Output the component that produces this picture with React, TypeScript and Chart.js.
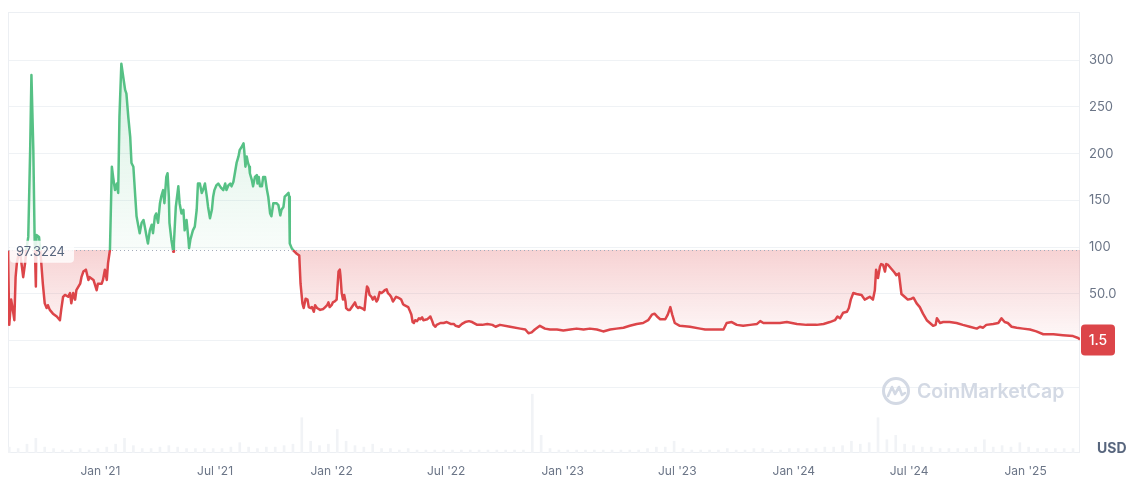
import React, { useEffect, useRef } from 'react';
import { Chart, registerables } from 'chart.js';

Chart.register(...registerables);

// ---- Data ----
const priceDates = [
  '2020-08-08','2020-08-10','2020-08-13','2020-08-15','2020-08-18','2020-08-20','2020-08-22','2020-08-24','2020-08-27','2020-08-30',
  '2020-09-01','2020-09-04','2020-09-06','2020-09-09','2020-09-12','2020-09-14','2020-09-17','2020-09-19','2020-09-21','2020-09-22',
  '2020-09-26','2020-09-28','2020-10-02','2020-10-05','2020-10-08','2020-10-10','2020-10-13','2020-10-18','2020-10-24','2020-10-29',
  '2020-10-31','2020-11-03','2020-11-06','2020-11-11','2020-11-14','2020-11-16','2020-11-19','2020-11-22','2020-11-24','2020-11-30',
  '2020-12-02','2020-12-05','2020-12-09','2020-12-13','2020-12-15','2020-12-21','2020-12-26','2020-12-28','2021-01-03','2021-01-05',
  '2021-01-08','2021-01-11','2021-01-13','2021-01-16','2021-01-19','2021-01-21','2021-01-24','2021-01-27','2021-01-29','2021-01-31',
  '2021-02-03','2021-02-06','2021-02-09','2021-02-11','2021-02-14','2021-02-17','2021-02-19','2021-02-22','2021-02-25','2021-02-27',
  '2021-03-02','2021-03-04','2021-03-07','2021-03-10','2021-03-12','2021-03-15','2021-03-17','2021-03-20','2021-03-23','2021-03-25',
  '2021-03-28','2021-03-30','2021-04-02','2021-04-05','2021-04-07','2021-04-10','2021-04-12','2021-04-15','2021-04-17','2021-04-19',
  '2021-04-20','2021-04-23','2021-04-26','2021-04-27','2021-04-30','2021-05-04','2021-05-06','2021-05-09','2021-05-12','2021-05-14',
  '2021-05-17','2021-05-20','2021-05-21','2021-05-23','2021-05-27','2021-05-30','2021-06-02','2021-06-04','2021-06-07','2021-06-10',
  '2021-06-12','2021-06-15','2021-06-18','2021-06-20','2021-06-23','2021-06-26','2021-06-28','2021-06-30','2021-07-03','2021-07-06',
  '2021-07-09','2021-07-11','2021-07-14','2021-07-17','2021-07-19','2021-07-22','2021-07-25','2021-07-27','2021-07-30','2021-08-02',
  '2021-08-04','2021-08-07','2021-08-09','2021-08-12','2021-08-15','2021-08-16','2021-08-18','2021-08-20','2021-08-22','2021-08-24',
  '2021-08-25','2021-08-28','2021-08-30','2021-09-02','2021-09-05','2021-09-06','2021-09-08','2021-09-10','2021-09-13','2021-09-15',
  '2021-09-18','2021-09-21','2021-09-23','2021-09-26','2021-09-28','2021-10-01','2021-10-04','2021-10-06','2021-10-09','2021-10-12',
  '2021-10-14','2021-10-17','2021-10-19','2021-10-22','2021-10-25','2021-10-26','2021-10-27','2021-10-30','2021-11-01','2021-11-04',
  '2021-11-07','2021-11-11','2021-11-13','2021-11-16','2021-11-18','2021-11-21','2021-11-24','2021-11-26','2021-11-29','2021-12-01',
  '2021-12-04','2021-12-06','2021-12-09','2021-12-14','2021-12-19','2021-12-22','2021-12-25','2021-12-27','2021-12-29','2022-01-01',
  '2022-01-03','2022-01-06','2022-01-09','2022-01-10','2022-01-12','2022-01-14','2022-01-15','2022-01-17','2022-01-19','2022-01-21',
  '2022-01-23','2022-01-24','2022-01-27','2022-01-30','2022-02-01','2022-02-04','2022-02-07','2022-02-09','2022-02-12','2022-02-14',
  '2022-02-20','2022-02-22','2022-02-24','2022-02-26','2022-02-28','2022-03-02','2022-03-05','2022-03-07','2022-03-10','2022-03-13',
  '2022-03-15','2022-03-18','2022-03-21','2022-03-23','2022-03-26','2022-03-29','2022-03-31','2022-04-03','2022-04-05','2022-04-08',
  '2022-04-11','2022-04-13','2022-04-16','2022-04-19','2022-04-21','2022-04-24','2022-04-26','2022-04-29','2022-05-02','2022-05-04',
  '2022-05-07','2022-05-09','2022-05-11','2022-05-13','2022-05-16','2022-05-19','2022-05-21','2022-05-24','2022-05-26','2022-06-01',
  '2022-06-03','2022-06-06','2022-06-09','2022-06-11','2022-06-14','2022-06-16','2022-06-22','2022-06-27','2022-07-02','2022-07-08',
  '2022-07-13','2022-07-16','2022-07-21','2022-07-26','2022-07-31','2022-08-06','2022-08-11','2022-08-19','2022-08-27','2022-09-04',
  '2022-09-12','2022-09-17','2022-09-24','2022-10-10','2022-10-26','2022-11-03','2022-11-08','2022-11-13','2022-11-18','2022-11-26',
  '2022-12-04','2022-12-12','2022-12-23','2023-01-02','2023-01-13','2023-01-23','2023-02-03','2023-02-13','2023-02-24','2023-03-06',
  '2023-03-17','2023-03-27','2023-04-07','2023-04-17','2023-04-28','2023-05-08','2023-05-16','2023-05-22','2023-05-26','2023-05-30',
  '2023-06-04','2023-06-12','2023-06-16','2023-06-20','2023-06-23','2023-06-27','2023-07-05','2023-07-21','2023-08-06','2023-08-14',
  '2023-08-27','2023-09-12','2023-09-17','2023-09-25','2023-10-03','2023-10-13','2023-10-24','2023-11-04','2023-11-09','2023-11-14',
  '2023-11-25','2023-12-10','2023-12-21','2024-01-06','2024-01-21','2024-02-06','2024-02-17','2024-02-27','2024-03-06','2024-03-10',
  '2024-03-14','2024-03-19','2024-03-25','2024-03-28','2024-03-31','2024-04-04','2024-04-09','2024-04-17','2024-04-22','2024-04-25',
  '2024-04-30','2024-05-05','2024-05-08','2024-05-10','2024-05-13','2024-05-16','2024-05-18','2024-05-21','2024-05-24','2024-05-26',
  '2024-05-29','2024-06-03','2024-06-08','2024-06-11','2024-06-15','2024-06-19','2024-06-24','2024-06-29','2024-07-05','2024-07-08',
  '2024-07-13','2024-07-18','2024-07-23','2024-07-29','2024-08-03','2024-08-08','2024-08-12','2024-08-14','2024-08-19','2024-08-24',
  '2024-09-03','2024-09-14','2024-09-24','2024-10-05','2024-10-16','2024-10-21','2024-10-26','2024-10-31','2024-11-11','2024-11-19',
  '2024-11-24','2024-11-29','2024-12-04','2024-12-10','2024-12-18','2024-12-28','2025-01-08','2025-01-18','2025-01-29','2025-02-14',
  '2025-03-01','2025-03-17','2025-03-25','2025-03-28',
];

const prices = [
  97, 17, 44, 36, 22, 68, 83, 90, 94, 79,
  68, 83, 97, 111, 204, 284, 204, 111, 58, 113,
  111, 97, 61, 40, 35, 38, 33, 29, 26, 22,
  33, 47, 49, 47, 51, 40, 51, 44, 54, 61,
  68, 74, 76, 65, 68, 65, 54, 61, 61, 65,
  76, 65, 83, 97, 186, 175, 161, 168, 158, 239,
  296, 282, 268, 264, 239, 218, 190, 186, 154, 133,
  122, 115, 126, 129, 122, 111, 104, 118, 124, 115,
  133, 136, 126, 147, 154, 161, 147, 175, 179, 154,
  126, 108, 95, 104, 143, 165, 147, 136, 140, 118,
  129, 108, 99, 108, 118, 122, 140, 168, 168, 158,
  161, 168, 154, 143, 131, 140, 154, 161, 166, 168,
  165, 163, 161, 168, 161, 166, 168, 165, 170, 182,
  190, 197, 204, 207, 211, 204, 186, 197, 190, 186,
  179, 172, 165, 175, 177, 168, 175, 165, 165, 175,
  175, 161, 154, 136, 133, 147, 147, 147, 145, 134,
  140, 143, 154, 156, 158, 154, 104, 99, 97, 95,
  93, 91, 61, 40, 35, 45, 44, 36, 35, 36,
  31, 38, 35, 33, 34, 36, 38, 41, 36, 38,
  41, 42, 44, 54, 74, 76, 70, 51, 44, 49,
  42, 35, 33, 33, 35, 38, 41, 37, 35, 36,
  34, 33, 47, 58, 56, 49, 47, 44, 47, 42,
  44, 52, 51, 52, 54, 55, 51, 49, 47, 42,
  45, 47, 46, 45, 44, 39, 38, 37, 36, 33,
  28, 20, 19, 22, 21, 24, 23, 25, 22, 23,
  24, 26, 21, 17, 15, 17, 19, 19, 20, 18,
  18, 16, 15, 18, 20, 21, 20, 17, 17, 18,
  17, 15, 17, 15, 13, 12, 8, 9, 12, 16,
  13, 12, 12, 11, 12, 13, 12, 13, 12, 10,
  12, 13, 14, 16, 18, 19, 22, 28, 29, 26,
  23, 23, 28, 36, 28, 19, 16, 15, 13, 12,
  12, 12, 19, 20, 17, 16, 17, 18, 21, 19,
  19, 19, 20, 18, 17, 17, 18, 20, 22, 26,
  24, 30, 31, 35, 44, 51, 50, 49, 44, 45,
  47, 44, 54, 76, 67, 79, 82, 81, 74, 82,
  81, 77, 73, 70, 72, 50, 47, 44, 45, 46,
  40, 36, 29, 22, 19, 16, 17, 24, 19, 20,
  20, 19, 17, 15, 13, 15, 14, 17, 18, 19,
  24, 20, 19, 15, 14, 13, 12, 10, 7, 7,
  6, 5, 3, 1.5,
];

// Trading volume (USD millions), one bar every two weeks from volumeStartDate
const volumeStartDate = '2020-08-10';
const volumeStepDays = 14;
const volumes = [
  4, 3, 6, 10, 4, 3, 2, 2, 3, 2, 3, 4, 6, 10, 5, 3, 3, 4, 5, 4,
  3, 3, 3, 3, 3, 4, 7, 4, 3, 4, 4, 5, 6, 24, 8, 5, 6, 16, 8, 5,
  4, 6, 3, 3, 2, 3, 2, 2, 2, 2, 2, 2, 2, 2, 2, 2, 2, 2, 2, 40,
  12, 3, 2, 2, 2, 2, 2, 2, 2, 2, 2, 2, 3, 4, 4, 8, 3, 2, 2, 2,
  2, 3, 2, 2, 3, 3, 2, 2, 3, 3, 3, 3, 4, 4, 5, 8, 6, 7, 24, 9,
  12, 6, 5, 4, 4, 3, 3, 3, 3, 4, 9, 4, 5, 4, 7, 4, 3, 3, 3, 3, 3,
];

const tickDates = ['2021-01-01','2021-07-01','2022-01-01','2022-07-01','2023-01-01','2023-07-01','2024-01-01','2024-07-01','2025-01-01'];
const tickLabels = ["Jan '21","Jul '21","Jan '22","Jul '22","Jan '23","Jul '23","Jan '24","Jul '24","Jan '25"];
const priceTicks = [-50, 0, 50, 100, 150, 200, 250, 300];
const baselinePrice = 97.3224;
const baselineLabel = '97.3224';
const currentPrice = 1.5;
const currentLabel = '1.5';
const currencyLabel = 'USD';
const watermarkText = 'CoinMarketCap';
const xRange = ['2020-08-08', '2025-03-28'];
const priceRange = [-119.9, 351.3];
const volumeRange = [0, 300];

const GREEN = '86,193,133';
const RED = '220,69,73';
const FONT = 'Inter, "Noto Sans", sans-serif';

function rangeInfo(chart: any) {
  const { chartArea, scales } = chart;
  if (!chartArea || !scales || !scales.y) return null;
  const top = chartArea.top;
  const zero = scales.y.getPixelForValue(0);
  const base = scales.y.getPixelForValue(baselinePrice);
  const f = Math.min(0.999, Math.max(0.001, (base - top) / (zero - top)));
  return { top, zero, f };
}

function lineGradient(chart: any) {
  const r = rangeInfo(chart);
  if (!r) return `rgb(${RED})`;
  const g = chart.ctx.createLinearGradient(0, r.top, 0, r.zero);
  g.addColorStop(0, `rgb(${GREEN})`);
  g.addColorStop(r.f, `rgb(${GREEN})`);
  g.addColorStop(r.f, `rgb(${RED})`);
  g.addColorStop(1, `rgb(${RED})`);
  return g;
}

function fillGradient(chart: any) {
  const r = rangeInfo(chart);
  if (!r) return 'rgba(0,0,0,0)';
  const g = chart.ctx.createLinearGradient(0, r.top, 0, r.zero);
  g.addColorStop(0, `rgba(${GREEN},0.28)`);
  g.addColorStop(r.f, `rgba(${GREEN},0.04)`);
  g.addColorStop(r.f, `rgba(${RED},0.24)`);
  g.addColorStop(1, `rgba(${RED},0.03)`);
  return g;
}

function roundRect(ctx: CanvasRenderingContext2D, x: number, y: number, w: number, h: number, r: number) {
  ctx.beginPath();
  ctx.moveTo(x + r, y);
  ctx.lineTo(x + w - r, y);
  ctx.quadraticCurveTo(x + w, y, x + w, y + r);
  ctx.lineTo(x + w, y + h - r);
  ctx.quadraticCurveTo(x + w, y + h, x + w - r, y + h);
  ctx.lineTo(x + r, y + h);
  ctx.quadraticCurveTo(x, y + h, x, y + h - r);
  ctx.lineTo(x, y + r);
  ctx.quadraticCurveTo(x, y, x + r, y);
  ctx.closePath();
}

const decorPlugin = {
  id: 'decor',
  beforeDatasetsDraw(chart: any) {
    const { ctx, chartArea: a } = chart;
    ctx.save();
    // frame
    ctx.strokeStyle = '#eceff3';
    ctx.lineWidth = 1;
    ctx.strokeRect(a.left + 0.5, a.top + 0.5, a.right - a.left - 1, a.bottom - a.top - 1);
    // watermark
    const cx = a.right - 184;
    const cy = a.top + 379;
    ctx.strokeStyle = '#d3d9e4';
    ctx.lineWidth = 3;
    ctx.beginPath();
    ctx.arc(cx, cy, 12.5, 0, Math.PI * 2);
    ctx.stroke();
    ctx.lineWidth = 2.6;
    ctx.lineJoin = 'round';
    ctx.lineCap = 'round';
    ctx.beginPath();
    ctx.moveTo(cx - 8, cy + 5);
    ctx.lineTo(cx - 4, cy - 4);
    ctx.lineTo(cx - 1, cy + 3);
    ctx.lineTo(cx + 3, cy - 4);
    ctx.lineTo(cx + 6, cy + 4);
    ctx.lineTo(cx + 9, cy + 2);
    ctx.stroke();
    ctx.fillStyle = '#d3d9e4';
    ctx.font = `600 19.5px ${FONT}`;
    ctx.textAlign = 'left';
    ctx.textBaseline = 'middle';
    ctx.fillText(watermarkText, cx + 21, cy + 1);
    ctx.restore();
  },
  afterDatasetsDraw(chart: any) {
    const { ctx, chartArea: a, scales } = chart;
    ctx.save();
    // dotted baseline
    const yb = Math.round(scales.y.getPixelForValue(baselinePrice)) + 0.5;
    ctx.strokeStyle = '#a3abba';
    ctx.lineWidth = 1;
    ctx.setLineDash([1, 3]);
    ctx.beginPath();
    ctx.moveTo(a.left, yb);
    ctx.lineTo(a.right, yb);
    ctx.stroke();
    ctx.restore();
  },
  afterDraw(chart: any) {
    const { ctx, chartArea: a, scales } = chart;
    ctx.save();
    // baseline label
    const yb = scales.y.getPixelForValue(baselinePrice);
    ctx.fillStyle = 'rgba(255,255,255,0.82)';
    roundRect(ctx, a.left + 2, yb - 9, 64, 22, 4);
    ctx.fill();
    ctx.fillStyle = '#58667e';
    ctx.font = `13px ${FONT}`;
    ctx.textAlign = 'left';
    ctx.textBaseline = 'middle';
    ctx.fillText(baselineLabel, a.left + 8, yb + 2);
    // current price badge
    const yc = scales.y.getPixelForValue(currentPrice);
    ctx.fillStyle = `rgb(${RED})`;
    roundRect(ctx, a.right + 1, yc - 15, 34, 31, 4);
    ctx.fill();
    ctx.fillStyle = '#ffffff';
    ctx.font = `500 14px ${FONT}`;
    ctx.textAlign = 'center';
    ctx.fillText(currentLabel, a.right + 18, yc + 1);
    // currency
    ctx.fillStyle = '#58667e';
    ctx.font = `bold 14px ${FONT}`;
    ctx.textAlign = 'left';
    ctx.fillText(currencyLabel, a.right + 17, a.bottom - 4);
    ctx.restore();
  },
};

export default function App() {
  const canvasRef = useRef<HTMLCanvasElement>(null);

  useEffect(() => {
    const canvas = canvasRef.current;
    if (!canvas) return;
    const dayMs = 86400000;
    const priceData = priceDates.map((d, i) => ({ x: Date.parse(d), y: prices[i] }));
    const volStart = Date.parse(volumeStartDate);
    const volumeData = volumes.map((v, i) => ({ x: volStart + i * volumeStepDays * dayMs, y: v }));
    const tickValues = tickDates.map((d) => Date.parse(d));

    const chart = new Chart(canvas, {
      type: 'line',
      data: {
        datasets: [
          {
            type: 'line',
            data: priceData,
            yAxisID: 'y',
            xAxisID: 'x',
            borderWidth: 2.5,
            pointRadius: 0,
            tension: 0,
            borderJoinStyle: 'round',
            fill: { value: baselinePrice },
            borderColor: (c: any) => lineGradient(c.chart),
            backgroundColor: (c: any) => fillGradient(c.chart),
            order: 0,
          } as any,
          {
            type: 'bar',
            data: volumeData,
            yAxisID: 'yVol',
            xAxisID: 'x',
            backgroundColor: '#f1f3f6',
            barThickness: 2,
            order: 1,
          } as any,
        ],
      },
      options: {
        animation: false,
        responsive: true,
        maintainAspectRatio: false,
        layout: { padding: { top: 4, left: 0, right: 0, bottom: 0 } },
        plugins: { legend: { display: false }, tooltip: { enabled: false } },
        scales: {
          x: {
            type: 'linear',
            offset: false,
            min: Date.parse(xRange[0]),
            max: Date.parse(xRange[1]),
            grid: { display: false, drawTicks: false, offset: false },
            border: { display: false },
            afterBuildTicks: (s: any) => {
              s.ticks = tickValues.map((v) => ({ value: v }));
            },
            afterFit: (s: any) => {
              s.height = 36;
              s.paddingLeft = 0;
              s.paddingRight = 0;
            },
            ticks: {
              autoSkip: false,
              maxRotation: 0,
              padding: 11,
              color: '#6b7587',
              font: { family: FONT, size: 12 },
              callback: (v: any) => {
                const i = tickValues.indexOf(Number(v));
                return i >= 0 ? tickLabels[i] : '';
              },
            },
          },
          y: {
            type: 'linear',
            position: 'right',
            min: priceRange[0],
            max: priceRange[1],
            grid: { color: '#eff2f5', drawTicks: false },
            border: { display: false },
            afterBuildTicks: (s: any) => {
              s.ticks = priceTicks.map((v) => ({ value: v }));
            },
            afterFit: (s: any) => {
              s.width = 52;
              s.paddingTop = 0;
              s.paddingBottom = 0;
            },
            ticks: {
              padding: 9,
              color: '#6b7587',
              font: { family: FONT, size: 13 },
              callback: (v: any) => {
                const n = Number(v);
                if (n < 50) return '';
                return n < 100 ? n.toFixed(1) : String(n);
              },
            },
          },
          yVol: {
            type: 'linear',
            display: false,
            min: volumeRange[0],
            max: volumeRange[1],
          },
        },
      } as any,
      plugins: [decorPlugin],
    });

    return () => chart.destroy();
  }, []);

  return (
    <div style={{ position: 'relative', width: '100%', height: 481 }}>
      <canvas ref={canvasRef} />
    </div>
  );
}
